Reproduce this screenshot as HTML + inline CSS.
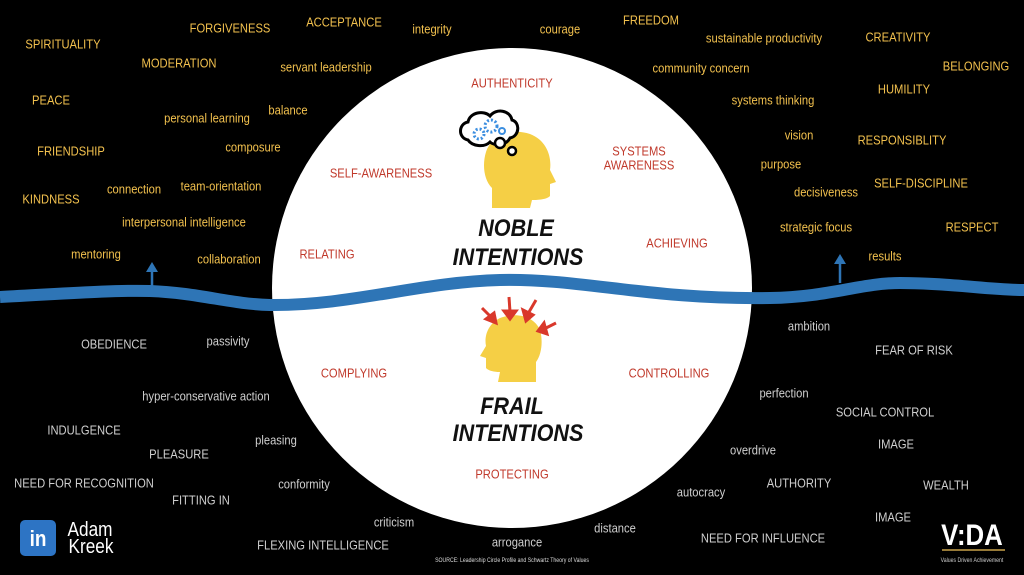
<!DOCTYPE html>
<html><head><meta charset="utf-8"><style>
body{margin:0;width:1024px;height:575px;background:#000;overflow:hidden;position:relative;font-family:"Liberation Sans Narrow","Liberation Sans",sans-serif}
.t{position:absolute;transform:translate(-50%,-50%) scaleX(0.86);white-space:nowrap;font-size:13px;line-height:1}
.y{color:#f2c14e}.g{color:#cfcfcf}.r{color:#c0392b}
.big{color:#111;font-weight:bold;font-style:italic;font-size:24px;transform:translate(-50%,-50%) scaleX(0.9)}
</style></head><body>
<svg width="1024" height="575" style="position:absolute;left:0;top:0">
<circle cx="512" cy="288" r="240" fill="#fff"/>
<path d="M0,297 C60,294 110,290 150,291 C200,293 230,304 270,305 C350,306 420,282 500,280 C580,278 650,300 770,298 C830,297 860,283 900,283 C950,283 990,290 1024,290" stroke="#2e75b6" stroke-width="12" fill="none"/>
<line x1="152" y1="290" x2="152" y2="270" stroke="#2e75b6" stroke-width="2.5"/>
<polygon points="146,272 158,272 152,262" fill="#2e75b6"/>
<line x1="840" y1="283" x2="840" y2="262" stroke="#2e75b6" stroke-width="2.5"/>
<polygon points="834,264 846,264 840,254" fill="#2e75b6"/>
<!-- noble head -->
<path d="M492,208 L492,188 C484,180 482,165 486,152 C492,134 512,128 530,134 C546,140 552,156 550,170 L556,182 L550,184 L550,196 C546,200 536,200 532,200 L530,208 Z" fill="#f5cf45"/>
<path d="M468,140 C458,138 458,124 468,122 C470,112 484,110 490,116 C496,108 510,110 512,120 C520,122 520,136 510,138 C506,146 494,146 490,142 C484,148 472,146 468,140 Z" fill="#fff" stroke="#000" stroke-width="3"/>
<circle cx="500" cy="143" r="5" fill="#fff" stroke="#000" stroke-width="2.5"/>
<circle cx="512" cy="151" r="4" fill="#fff" stroke="#000" stroke-width="2.5"/>
<circle cx="479" cy="134" r="5" fill="none" stroke="#3b8ee0" stroke-width="3" stroke-dasharray="2 2"/>
<circle cx="491" cy="126" r="6" fill="none" stroke="#3b8ee0" stroke-width="3" stroke-dasharray="2 2"/>
<circle cx="502" cy="131" r="3" fill="none" stroke="#3b8ee0" stroke-width="2"/>
<!-- frail head (faces left) -->
<path d="M536,382 L536,362 C542,354 543,340 540,330 C534,316 516,312 500,318 C488,324 484,336 486,346 L480,356 L486,358 L486,368 C490,372 498,372 500,372 L498,382 Z" fill="#f5cf45"/>
<g stroke="#d9382b" stroke-width="3" fill="#d9382b">
<line x1="482" y1="308" x2="491" y2="317"/><polygon points="486,319 496,323 494,313"/>
<line x1="509" y1="297" x2="510" y2="312"/><polygon points="504,311 516,311 510,319"/>
<line x1="536" y1="300" x2="529" y2="312"/><polygon points="523,310 533,315 526,321"/>
<line x1="556" y1="323" x2="544" y2="329"/><polygon points="544,323 547,334 538,331"/>
</g>
<rect x="20" y="520" width="36" height="36" rx="5" fill="#2d74c4"/>
<line x1="942" y1="550" x2="1005" y2="550" stroke="#c9a24a" stroke-width="1.5"/>
</svg>
<div class="t" style="left:38px;top:539px;color:#fff;font-weight:bold;font-size:22px;font-family:'Liberation Sans',sans-serif">in</div>
<div class="t" style="left:90px;top:530px;color:#fff;font-size:20px">Adam</div>
<div class="t" style="left:91px;top:547px;color:#fff;font-size:20px">Kreek</div>
<div class="t" style="left:972px;top:536px;color:#fff;font-weight:bold;font-size:30px">V:DA</div>
<div class="t" style="left:972px;top:561px;color:#ccc;font-size:6px">Values Driven Achievement</div>
<div class="t" style="left:512px;top:561px;color:#ddd;font-size:6px">SOURCE: Leadership Circle Profile and Schwartz Theory of Values</div>

<div class="t y" style="left:63px;top:44px">SPIRITUALITY</div>
<div class="t y" style="left:230px;top:28px">FORGIVENESS</div>
<div class="t y" style="left:344px;top:22px">ACCEPTANCE</div>
<div class="t y" style="left:432px;top:29px">integrity</div>
<div class="t y" style="left:560px;top:29px">courage</div>
<div class="t y" style="left:651px;top:20px">FREEDOM</div>
<div class="t y" style="left:764px;top:38px">sustainable productivity</div>
<div class="t y" style="left:898px;top:37px">CREATIVITY</div>
<div class="t y" style="left:179px;top:63px">MODERATION</div>
<div class="t y" style="left:326px;top:67px">servant leadership</div>
<div class="t y" style="left:701px;top:68px">community concern</div>
<div class="t y" style="left:976px;top:66px">BELONGING</div>
<div class="t y" style="left:51px;top:100px">PEACE</div>
<div class="t y" style="left:288px;top:110px">balance</div>
<div class="t y" style="left:773px;top:100px">systems thinking</div>
<div class="t y" style="left:904px;top:89px">HUMILITY</div>
<div class="t y" style="left:207px;top:118px">personal learning</div>
<div class="t y" style="left:799px;top:135px">vision</div>
<div class="t y" style="left:902px;top:140px">RESPONSIBLITY</div>
<div class="t y" style="left:71px;top:151px">FRIENDSHIP</div>
<div class="t y" style="left:253px;top:147px">composure</div>
<div class="t y" style="left:781px;top:164px">purpose</div>
<div class="t y" style="left:134px;top:189px">connection</div>
<div class="t y" style="left:221px;top:186px">team-orientation</div>
<div class="t y" style="left:826px;top:192px">decisiveness</div>
<div class="t y" style="left:921px;top:183px">SELF-DISCIPLINE</div>
<div class="t y" style="left:51px;top:199px">KINDNESS</div>
<div class="t y" style="left:184px;top:222px">interpersonal intelligence</div>
<div class="t y" style="left:816px;top:227px">strategic focus</div>
<div class="t y" style="left:972px;top:227px">RESPECT</div>
<div class="t y" style="left:96px;top:254px">mentoring</div>
<div class="t y" style="left:229px;top:259px">collaboration</div>
<div class="t y" style="left:885px;top:256px">results</div>

<div class="t r" style="left:512px;top:83px">AUTHENTICITY</div>
<div class="t r" style="left:381px;top:173px">SELF-AWARENESS</div>
<div class="t r" style="left:639px;top:151px">SYSTEMS</div>
<div class="t r" style="left:639px;top:165px">AWARENESS</div>
<div class="t r" style="left:327px;top:254px">RELATING</div>
<div class="t r" style="left:677px;top:243px">ACHIEVING</div>
<div class="t r" style="left:354px;top:373px">COMPLYING</div>
<div class="t r" style="left:669px;top:373px">CONTROLLING</div>
<div class="t r" style="left:512px;top:474px">PROTECTING</div>

<div class="t big" style="left:516px;top:229px">NOBLE</div>
<div class="t big" style="left:518px;top:258px">INTENTIONS</div>
<div class="t big" style="left:512px;top:407px">FRAIL</div>
<div class="t big" style="left:518px;top:434px">INTENTIONS</div>

<div class="t g" style="left:114px;top:344px">OBEDIENCE</div>
<div class="t g" style="left:228px;top:341px">passivity</div>
<div class="t g" style="left:809px;top:326px">ambition</div>
<div class="t g" style="left:914px;top:350px">FEAR OF RISK</div>
<div class="t g" style="left:206px;top:396px">hyper-conservative action</div>
<div class="t g" style="left:784px;top:393px">perfection</div>
<div class="t g" style="left:885px;top:412px">SOCIAL CONTROL</div>
<div class="t g" style="left:84px;top:430px">INDULGENCE</div>
<div class="t g" style="left:276px;top:440px">pleasing</div>
<div class="t g" style="left:179px;top:454px">PLEASURE</div>
<div class="t g" style="left:753px;top:450px">overdrive</div>
<div class="t g" style="left:896px;top:444px">IMAGE</div>
<div class="t g" style="left:84px;top:483px">NEED FOR RECOGNITION</div>
<div class="t g" style="left:304px;top:484px">conformity</div>
<div class="t g" style="left:201px;top:500px">FITTING IN</div>
<div class="t g" style="left:701px;top:492px">autocracy</div>
<div class="t g" style="left:799px;top:483px">AUTHORITY</div>
<div class="t g" style="left:946px;top:485px">WEALTH</div>
<div class="t g" style="left:394px;top:522px">criticism</div>
<div class="t g" style="left:615px;top:528px">distance</div>
<div class="t g" style="left:893px;top:517px">IMAGE</div>
<div class="t g" style="left:323px;top:545px">FLEXING INTELLIGENCE</div>
<div class="t g" style="left:517px;top:542px">arrogance</div>
<div class="t g" style="left:763px;top:538px">NEED FOR INFLUENCE</div>
</body></html>
